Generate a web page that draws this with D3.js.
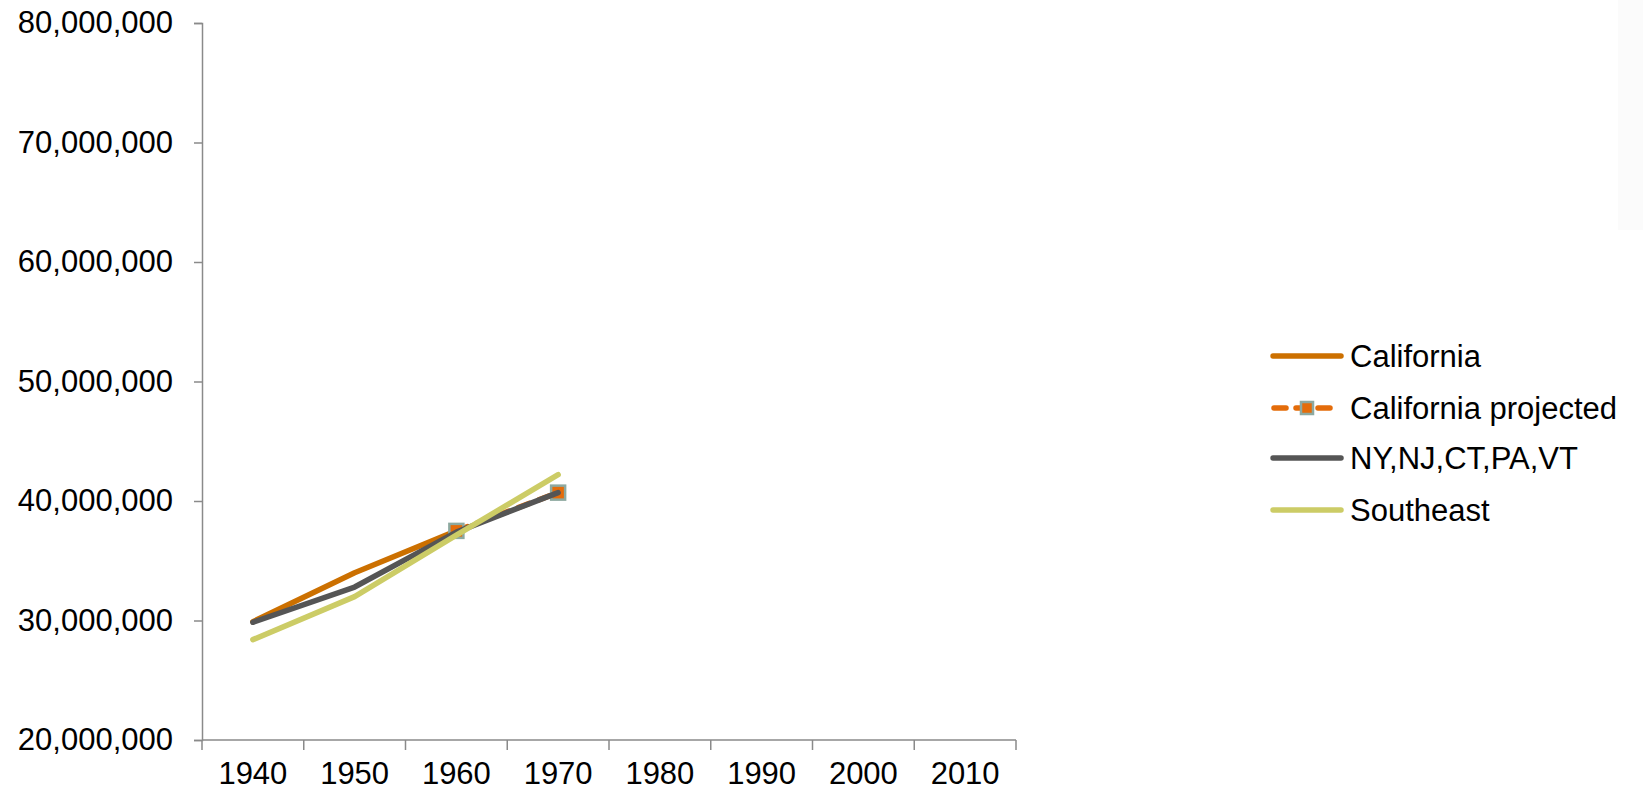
<!DOCTYPE html>
<html>
<head>
<meta charset="utf-8">
<script src="https://cdn.jsdelivr.net/npm/d3@7/dist/d3.min.js"></script>
<style>
  html, body { margin: 0; padding: 0; background: #ffffff; }
  svg { display: block; }
  text { font-family: "Liberation Sans", Arial, sans-serif; fill: #000; }
</style>
</head>
<body>
<svg id="chart" width="1643" height="791"></svg>
<script>
const years = [1940, 1950, 1960, 1970, 1980, 1990, 2000, 2010];
const california = [29.9e6, 34.0e6, 37.5e6, null, null, null, null, null];
const californiaProjected = [null, null, 37.5e6, 40.7e6, null, null, null, null];
const northeast = [29.85e6, 32.8e6, 37.4e6, 40.7e6, null, null, null, null];
const southeast = [28.4e6, 32.0e6, 37.15e6, 42.2e6, null, null, null, null];
const yTicks = [20e6, 30e6, 40e6, 50e6, 60e6, 70e6, 80e6];
const seriesNames = ["California", "California projected", "NY,NJ,CT,PA,VT", "Southeast"];

const colors = {
  california: "#CC7000",
  projected: "#E46C0A",
  marker: "#8DA9A0",
  northeast: "#555555",
  southeast: "#CCCC66",
  axis: "#8a8a8a"
};

const svg = d3.select("#chart");

// faint panel on right edge
svg.append("rect").attr("x", 1618).attr("y", 0).attr("width", 25).attr("height", 230).attr("fill", "#fbfbfb");

const x = d3.scaleBand().domain(years).range([202, 1016]).padding(0);
const y = d3.scaleLinear().domain([20e6, 80e6]).range([740, 23]);
const cx = d => x(d) + x.bandwidth() / 2;

// Y axis
const yAxis = d3.axisLeft(y).tickValues(yTicks).tickSize(8).tickPadding(21).tickFormat(d3.format(","));
const gy = svg.append("g").attr("transform", "translate(202,0)").call(yAxis);
gy.select(".domain").attr("stroke", colors.axis).attr("stroke-width", 1.5);
gy.selectAll(".tick line").attr("stroke", colors.axis).attr("stroke-width", 1.5);
gy.selectAll(".tick text").attr("font-size", 31).attr("font-family", "Liberation Sans, Arial, sans-serif").attr("fill", "#000");

// X axis
const gx = svg.append("g");
gx.append("line").attr("x1", 202).attr("x2", 1016).attr("y1", 740).attr("y2", 740)
  .attr("stroke", colors.axis).attr("stroke-width", 1.5);
const boundaries = years.map(d => x(d)).concat([x(years[years.length - 1]) + x.bandwidth()]);
gx.selectAll("line.xt").data(boundaries).enter().append("line").attr("class", "xt")
  .attr("x1", d => d).attr("x2", d => d).attr("y1", 740).attr("y2", 750)
  .attr("stroke", colors.axis).attr("stroke-width", 1.5);
gx.selectAll("text").data(years).enter().append("text")
  .attr("x", d => cx(d)).attr("y", 784).attr("text-anchor", "middle")
  .attr("font-size", 31).text(d => d);

// Lines
function toPts(arr) { return years.map((yr, i) => ({ yr, v: arr[i] })); }
const line = d3.line().defined(d => d.v != null).x(d => cx(d.yr)).y(d => y(d.v));

svg.append("path").datum(toPts(california)).attr("d", line)
  .attr("fill", "none").attr("stroke", colors.california).attr("stroke-width", 5.5)
  .attr("stroke-linejoin", "round").attr("stroke-linecap", "round");

svg.append("path").datum(toPts(californiaProjected)).attr("d", line)
  .attr("fill", "none").attr("stroke", colors.projected).attr("stroke-width", 5.5)
  .attr("stroke-dasharray", "12,10").attr("stroke-linecap", "round");

const projPts = toPts(californiaProjected).filter(d => d.v != null);
svg.selectAll("rect.mk").data(projPts).enter().append("rect").attr("class", "mk")
  .attr("x", d => cx(d.yr) - 7).attr("y", d => y(d.v) - 7).attr("width", 14).attr("height", 14)
  .attr("fill", colors.projected).attr("stroke", colors.marker).attr("stroke-width", 2.5);

svg.append("path").datum(toPts(northeast)).attr("d", line)
  .attr("fill", "none").attr("stroke", colors.northeast).attr("stroke-width", 5.5)
  .attr("stroke-linejoin", "round").attr("stroke-linecap", "round");

svg.append("path").datum(toPts(southeast)).attr("d", line)
  .attr("fill", "none").attr("stroke", colors.southeast).attr("stroke-width", 5.5)
  .attr("stroke-linejoin", "round").attr("stroke-linecap", "round");

// Legend
const legendY = [356, 408, 458, 510];
const legendColors = [colors.california, colors.projected, colors.northeast, colors.southeast];
const lg = svg.append("g");
seriesNames.forEach((name, i) => {
  const ly = legendY[i];
  if (i === 1) {
    lg.append("line").attr("x1", 1274).attr("x2", 1340).attr("y1", ly).attr("y2", ly)
      .attr("stroke", legendColors[i]).attr("stroke-width", 5.5)
      .attr("stroke-dasharray", "12,10").attr("stroke-linecap", "round");
    lg.append("rect").attr("x", 1307 - 6).attr("y", ly - 6).attr("width", 12).attr("height", 12)
      .attr("fill", colors.projected).attr("stroke", colors.marker).attr("stroke-width", 2.5);
  } else {
    lg.append("line").attr("x1", 1273).attr("x2", 1341).attr("y1", ly).attr("y2", ly)
      .attr("stroke", legendColors[i]).attr("stroke-width", 5.5).attr("stroke-linecap", "round");
  }
  lg.append("text").attr("x", 1350).attr("y", ly).attr("dy", "0.35em")
    .attr("font-size", 31).text(name);
});
</script>
</body>
</html>
